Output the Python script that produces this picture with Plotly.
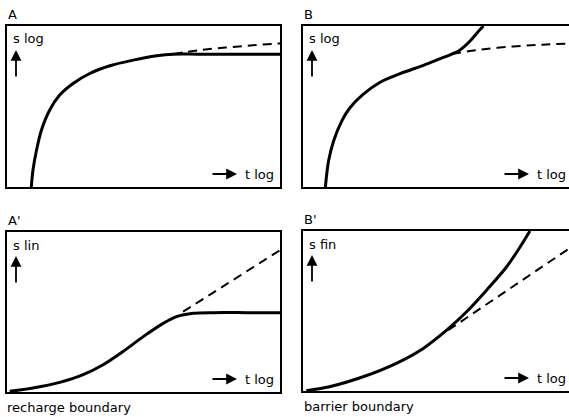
import plotly.graph_objects as go

W, H = 569, 417

# ---- data (normalized: x = log t position, y = drawdown position) ----
a_solid_x = [0.089, 0.095, 0.108, 0.126, 0.156, 0.193, 0.242, 0.303, 0.377, 0.462, 0.548, 0.609, 0.70, 0.85, 1.0]
a_solid_y = [0.0, 0.104, 0.228, 0.353, 0.477, 0.571, 0.643, 0.705, 0.753, 0.788, 0.815, 0.825, 0.825, 0.825, 0.825]
a_dash_x = [0.609, 0.70, 0.80, 0.90, 1.0]
a_dash_y = [0.826, 0.849, 0.866, 0.880, 0.892]

b_solid_x = [0.084, 0.096, 0.115, 0.146, 0.178, 0.228, 0.290, 0.365, 0.453, 0.516, 0.560, 0.585, 0.606, 0.630, 0.655, 0.678]
b_solid_y = [0.0, 0.161, 0.286, 0.411, 0.495, 0.578, 0.651, 0.704, 0.756, 0.797, 0.826, 0.845, 0.872, 0.910, 0.958, 1.0]
b_dash_x = [0.560, 0.666, 0.791, 0.90, 1.0]
b_dash_y = [0.826, 0.853, 0.873, 0.884, 0.891]

a2_solid_x = [0.01, 0.095, 0.193, 0.279, 0.352, 0.425, 0.499, 0.572, 0.621, 0.682, 0.756, 0.88, 1.0]
a2_solid_y = [0.004, 0.025, 0.060, 0.108, 0.170, 0.253, 0.346, 0.429, 0.471, 0.492, 0.496, 0.496, 0.496]
a2_dash_x = [0.645, 1.0]
a2_dash_y = [0.502, 0.886]

b2_solid_x = [0.0125, 0.10, 0.226, 0.351, 0.452, 0.540, 0.615, 0.690, 0.765, 0.816, 0.853]
b2_solid_y = [0.002, 0.027, 0.089, 0.173, 0.266, 0.380, 0.495, 0.630, 0.775, 0.900, 1.0]
b2_dash_x = [0.546, 1.0]
b2_dash_y = [0.380, 0.890]

panel_letters = ["A", "B", "A'", "B'"]
y_labels = ["s log", "s log", "s lin", "s fin"]
x_label = "t log"
captions = ["recharge boundary", "barrier boundary"]

# ---- layout helpers ----
def px(x):
    return x / W

def py(y):
    return 1 - y / H

# panel boxes in pixels: (x0, x1, y_top, y_bottom)
boxes = [(7, 280, 26, 187), (303, 570, 26, 187), (7, 280, 232, 392), (303, 570, 231, 391)]

fig = go.Figure()
axes = ["", "2", "3", "4"]
series = [
    (a_solid_x, a_solid_y, a_dash_x, a_dash_y),
    (b_solid_x, b_solid_y, b_dash_x, b_dash_y),
    (a2_solid_x, a2_solid_y, a2_dash_x, a2_dash_y),
    (b2_solid_x, b2_solid_y, b2_dash_x, b2_dash_y),
]

layout = dict(
    width=W, height=H, margin=dict(l=0, r=0, t=0, b=0),
    paper_bgcolor="white", plot_bgcolor="white", showlegend=False,
    font=dict(family="DejaVu Sans, Verdana, sans-serif", color="black"),
)

annotations = []
for i, (box, ax, (sx, sy, dx, dy)) in enumerate(zip(boxes, axes, series)):
    x0, x1, yt, yb = box
    xa = "x" + ax
    ya = "y" + ax
    fig.add_trace(go.Scatter(x=dx, y=dy, mode="lines", xaxis=xa, yaxis=ya,
                             line=dict(color="black", width=2, dash="9px,6px", shape="spline"),
                             cliponaxis=True, hoverinfo="skip"))
    fig.add_trace(go.Scatter(x=sx, y=sy, mode="lines", xaxis=xa, yaxis=ya,
                             line=dict(color="black", width=3, shape="spline", smoothing=0.8),
                             cliponaxis=True, hoverinfo="skip"))
    axstyle = dict(showgrid=False, zeroline=False, showticklabels=False, ticks="",
                   showline=True, mirror=True, linecolor="black", linewidth=2,
                   range=[0, 1], fixedrange=True)
    layout["xaxis" + ax] = dict(axstyle, domain=[px(x0), min(1.0, px(x1))], anchor=ya)
    ystyle = dict(axstyle)
    if i % 2 == 1:
        ystyle["mirror"] = False  # right edge of right-hand panels is cut off in the original
    layout["yaxis" + ax] = dict(ystyle, domain=[py(yb), py(yt)], anchor=xa)

    # panel letter
    annotations.append(dict(text=panel_letters[i], xref="paper", yref="paper",
                            x=px(x0 - 1), y=py(yt - 2), xanchor="left", yanchor="bottom",
                            showarrow=False, font=dict(size=13)))
    # y label
    annotations.append(dict(text=y_labels[i], xref="paper", yref="paper",
                            x=px(x0 + 4), y=py(yt + 13), xanchor="left", yanchor="middle",
                            showarrow=False, font=dict(size=13)))
    # up arrow
    annotations.append(dict(text="", xref="paper", yref="paper",
                            x=px(x0 + 9), y=py(yt + 24), ax=0, ay=28,
                            showarrow=True, arrowhead=2, arrowsize=1.2, arrowwidth=1.8,
                            arrowcolor="black"))
    # right arrow + t log
    xr = 276 if i % 2 == 0 else 568
    annotations.append(dict(text=x_label, xref="paper", yref="paper",
                            x=px(xr), y=py(yb - 13), xanchor="right", yanchor="middle",
                            showarrow=False, font=dict(size=13)))
    annotations.append(dict(text="", xref="paper", yref="paper",
                            x=px(xr - 39), y=py(yb - 13), ax=-26, ay=0,
                            showarrow=True, arrowhead=2, arrowsize=1.2, arrowwidth=1.8,
                            arrowcolor="black"))

annotations.append(dict(text=captions[0], xref="paper", yref="paper",
                        x=px(5), y=py(407), xanchor="left", yanchor="middle",
                        showarrow=False, font=dict(size=13)))
annotations.append(dict(text=captions[1], xref="paper", yref="paper",
                        x=px(302), y=py(406), xanchor="left", yanchor="middle",
                        showarrow=False, font=dict(size=13)))

layout["annotations"] = annotations
fig.update_layout(**layout)
fig.write_html("out.html", config={"displayModeBar": False, "staticPlot": True},
               post_script="document.body.style.margin='0';document.body.style.padding='0';")
